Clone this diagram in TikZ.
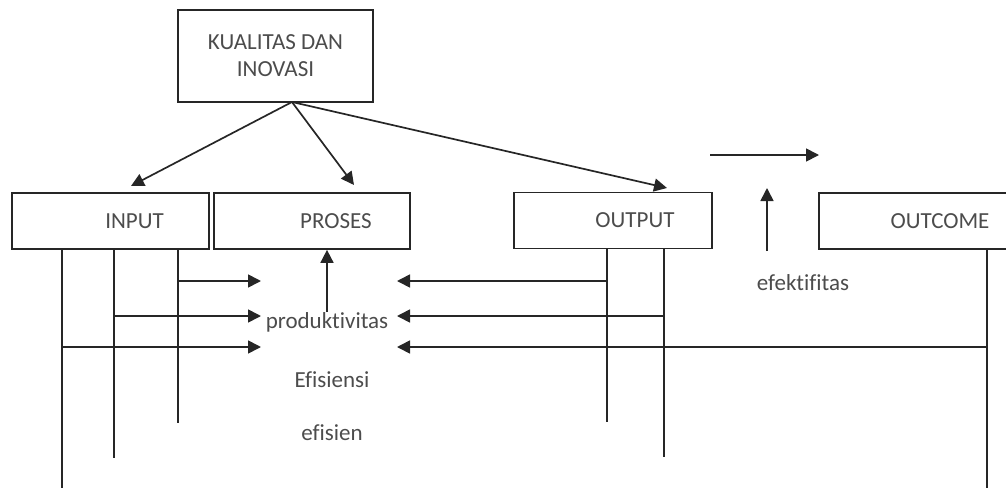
\documentclass[tikz,border=0pt]{standalone}
\usepackage{fontspec}
\setmainfont[Ligatures=NoCommon]{Carlito}
\usetikzlibrary{arrows.meta,calc}
\begin{document}
\begin{tikzpicture}[x=1pt,y=-1pt,
  ln/.style={draw=black!85,line width=1.7pt},
  arr/.style={ln,-{Triangle[length=13pt,width=13pt]}},
  box/.style={ln,rectangle,inner sep=0pt,minimum height=56pt},
  txt/.style={text=black!70,font=\fontsize{23}{27}\selectfont,inner sep=0pt},
  ]
\useasboundingbox (0,0) rectangle (1006,488);
\clip (0,0) rectangle (1006,488);
% boxes
\node[box,minimum width=195pt,minimum height=92pt,txt,text=black!70,align=center] (kq) at (275.5,56) {KUALITAS DAN\\INOVASI};
\node[box,minimum width=197pt,label={[txt,xshift=24pt]center:INPUT}] (input) at (110.5,221) {};
\node[box,minimum width=196pt,label={[txt,xshift=24pt]center:PROSES}] (proses) at (312,221) {};
\node[box,minimum width=198pt,label={[txt,xshift=22pt]center:OUTPUT}] (output) at (613,220.5) {};
\node[box,minimum width=195pt,label={[txt,xshift=23.5pt]center:OUTCOME}] (outcome) at (916.5,221) {};
% texts
\node[txt] (prod) at (327,322) {produktivitas};
\node[txt] (efs) at (332,380) {Efisiensi};
\node[txt] (efn) at (332,433) {efisien};
\node[txt] (efk) at (803,283) {efektifitas};
% coordinates
\coordinate (k0) at (292,102);
\coordinate (tin) at (131,186);
\coordinate (tpr) at (354,185);
\coordinate (tout) at (667,188);
\coordinate (i1) at (62,488);
\coordinate (i2) at (114,458);
\coordinate (i3) at (178,423);
\coordinate (o1) at (607,422);
\coordinate (o2) at (664,457);
\coordinate (c1) at (987,488);
\coordinate (la) at (261,281);
\coordinate (lb) at (261,316);
\coordinate (lc) at (261,347);
\coordinate (ra) at (397,281);
\coordinate (rb) at (397,316);
\coordinate (rc) at (397,347);
\coordinate (pu) at (327,312);
\coordinate (h0) at (710,155);
\coordinate (h1) at (819,155);
\coordinate (v0) at (767,251);
\coordinate (v1) at (767,188);
% arrows from KUALITAS
\draw[arr] (k0) -- (tin);
\draw[arr] (k0) -- (tpr);
\draw[arr] (k0) -- (tout);
% verticals
\draw[ln] (input.south -| i1) -- (i1);
\draw[ln] (input.south -| i2) -- (i2);
\draw[ln] (input.south -| i3) -- (i3);
\draw[ln] (output.south -| o1) -- (o1);
\draw[ln] (output.south -| o2) -- (o2);
\draw[ln] (outcome.south -| c1) -- (c1);
% horizontal arrows
\draw[arr] (la -| i3) -- (la);
\draw[arr] (lb -| i2) -- (lb);
\draw[arr] (lc -| i1) -- (lc);
\draw[arr] (ra -| o1) -- (ra);
\draw[arr] (rb -| o2) -- (rb);
\draw[arr] (rc -| c1) -- (rc);
% up arrow to PROSES
\draw[arr] (pu) -- (pu |- proses.south);
% efektifitas arrows
\draw[arr] (h0) -- (h1);
\draw[arr] (v0) -- (v1);
\end{tikzpicture}
\end{document}
